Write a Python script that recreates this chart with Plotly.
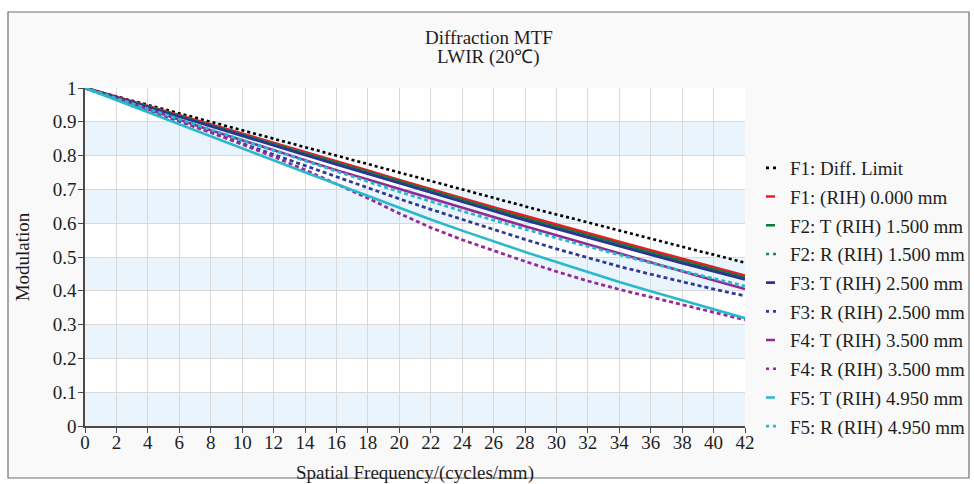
import plotly.graph_objects as go

# Spatial frequency samples (cycles/mm)
freq = [0, 2, 4, 6, 8, 10, 12, 14, 16, 18, 20, 22, 24, 26, 28, 30, 32, 34, 36, 38, 40, 42]

diff_limit = [1.000, 0.975, 0.949, 0.924, 0.899, 0.874, 0.848, 0.823, 0.798, 0.773, 0.748,
              0.723, 0.699, 0.674, 0.650, 0.626, 0.602, 0.578, 0.554, 0.530, 0.507, 0.483]
f1_axis = [1.000, 0.973, 0.946, 0.919, 0.892, 0.865, 0.837, 0.810, 0.783, 0.755, 0.727,
           0.699, 0.673, 0.646, 0.620, 0.595, 0.569, 0.544, 0.519, 0.494, 0.469, 0.444]
f2_t = [1.000, 0.972, 0.945, 0.917, 0.889, 0.862, 0.834, 0.806, 0.779, 0.751, 0.723,
        0.695, 0.668, 0.641, 0.615, 0.589, 0.563, 0.538, 0.513, 0.488, 0.463, 0.439]
f2_r = [1.000, 0.972, 0.944, 0.916, 0.888, 0.860, 0.832, 0.804, 0.776, 0.748, 0.720,
        0.692, 0.665, 0.638, 0.612, 0.586, 0.560, 0.535, 0.510, 0.485, 0.460, 0.436]
f3_t = [1.000, 0.971, 0.943, 0.915, 0.887, 0.858, 0.830, 0.802, 0.774, 0.746, 0.718,
        0.690, 0.663, 0.636, 0.609, 0.583, 0.557, 0.532, 0.507, 0.482, 0.458, 0.434]
f3_r = [1.000, 0.967, 0.934, 0.901, 0.868, 0.835, 0.802, 0.769, 0.736, 0.704, 0.672,
        0.641, 0.611, 0.581, 0.552, 0.524, 0.497, 0.472, 0.449, 0.426, 0.405, 0.385]
f4_t = [1.000, 0.968, 0.937, 0.906, 0.875, 0.845, 0.815, 0.786, 0.757, 0.729, 0.701,
        0.673, 0.645, 0.618, 0.591, 0.564, 0.537, 0.510, 0.484, 0.458, 0.431, 0.405]
f4_r = [1.000, 0.968, 0.936, 0.903, 0.869, 0.834, 0.797, 0.758, 0.717, 0.674, 0.629,
        0.587, 0.551, 0.518, 0.487, 0.457, 0.429, 0.404, 0.381, 0.358, 0.336, 0.314]
f5_t = [1.000, 0.964, 0.928, 0.893, 0.857, 0.822, 0.786, 0.751, 0.716, 0.681, 0.645,
        0.611, 0.578, 0.546, 0.515, 0.485, 0.455, 0.426, 0.399, 0.372, 0.345, 0.319]
f5_r = [1.000, 0.969, 0.938, 0.907, 0.876, 0.845, 0.814, 0.783, 0.753, 0.723, 0.693,
        0.664, 0.636, 0.609, 0.582, 0.556, 0.531, 0.506, 0.482, 0.459, 0.436, 0.414]

names = ["F1: Diff. Limit", "F1: (RIH) 0.000 mm",
         "F2: T (RIH) 1.500 mm", "F2: R (RIH) 1.500 mm",
         "F3: T (RIH) 2.500 mm", "F3: R (RIH) 2.500 mm",
         "F4: T (RIH) 3.500 mm", "F4: R (RIH) 3.500 mm",
         "F5: T (RIH) 4.950 mm", "F5: R (RIH) 4.950 mm"]
series = [diff_limit, f1_axis, f2_t, f2_r, f3_t, f3_r, f4_t, f4_r, f5_t, f5_r]

x_ticks = list(range(0, 43, 2))
y_ticks = [round(0.1 * i, 1) for i in range(11)]

FONT = "Liberation Serif, Times New Roman, serif"
TXT = "#1e1e1e"

# plot-area geometry in pixels
L, R, T, B = 85, 745, 88, 426
W, H = R - L, B - T

def px_x(p):
    return (p - L) / W

def px_y(p):
    return (B - p) / H

# (color, width, dash in plot, dash for the short legend key)
SOLID_KEY = "0px,11px,9px,100px"
DOT_KEY = "0px,11px,3px,4px,3px,100px"
styles = [
    ("#000000", 2.6, "dot", DOT_KEY),
    ("#ea1d25", 3.4, "solid", SOLID_KEY),
    ("#0d7a3b", 2.6, "solid", SOLID_KEY),
    ("#1f8a4a", 2.6, "3px,3px", DOT_KEY),
    ("#2b3590", 2.8, "solid", SOLID_KEY),
    ("#2f3a9c", 2.8, "4px,3px", DOT_KEY),
    ("#922a94", 2.6, "solid", SOLID_KEY),
    ("#952a98", 2.8, "4px,3px", DOT_KEY),
    ("#2ab8cc", 2.6, "solid", SOLID_KEY),
    ("#2ab8cc", 2.8, "4px,3px", DOT_KEY),
]

fig = go.Figure()

for vals, (col, w, dash, _) in zip(series, styles):
    fig.add_trace(go.Scatter(x=freq, y=vals, mode="lines",
                             line=dict(color=col, width=w, dash=dash),
                             showlegend=False, hoverinfo="skip"))

# legend entries with short keys
for name, (col, w, _, kdash) in zip(names, styles):
    fig.add_trace(go.Scatter(x=[None], y=[None], mode="lines", name=name,
                             legendgroup=name,
                             line=dict(color=col, width=2.6, dash=kdash)))

shapes = []
# outer frame
shapes.append(dict(type="rect", xref="paper", yref="paper",
                   x0=px_x(8), x1=px_x(969), y0=px_y(478), y1=px_y(12),
                   fillcolor="#f9f9f9", line=dict(color="#6e6e6e", width=1.2),
                   layer="below"))
# plot background and alternating bands
shapes.append(dict(type="rect", xref="paper", yref="paper", x0=0, x1=1, y0=0, y1=1,
                   fillcolor="#ffffff", line=dict(width=0), layer="below"))
for k in range(0, 10, 2):
    shapes.append(dict(type="rect", xref="paper", yref="y", x0=0, x1=1,
                       y0=y_ticks[k], y1=y_ticks[k + 1],
                       fillcolor="#eaf4fc", line=dict(width=0), layer="below"))

title_font = dict(size=19, family=FONT, color=TXT)
annotations = [
    dict(text="Diffraction MTF", xref="paper", yref="paper",
         x=px_x(489), y=px_y(37), showarrow=False,
         xanchor="center", yanchor="middle", font=title_font),
    dict(text="LWIR (20℃)", xref="paper", yref="paper",
         x=px_x(489), y=px_y(57), showarrow=False,
         xanchor="center", yanchor="middle", font=title_font),
]

fig.update_layout(
    width=974, height=484,
    margin=dict(l=L, r=974 - R, t=T, b=484 - B, autoexpand=False),
    paper_bgcolor="#ffffff", plot_bgcolor="rgba(0,0,0,0)",
    font=dict(family=FONT, size=19, color=TXT),
    shapes=shapes, annotations=annotations,
    showlegend=True,
    legend=dict(x=px_x(750), y=px_y(149), xanchor="left", yanchor="top",
                bgcolor="rgba(0,0,0,0)", font=dict(size=19, family=FONT, color=TXT),
                tracegroupgap=1, itemwidth=30),
    xaxis=dict(range=[0, 42], tickvals=x_ticks, showgrid=True, gridcolor="#d9d9d9",
               gridwidth=1, zeroline=False, showline=True, linecolor="#4a4a4a", linewidth=1.5,
               ticks="outside", ticklen=5, tickcolor="#4a4a4a", automargin=False,
               ticklabelstandoff=-7,
               tickfont=dict(size=19, family=FONT, color=TXT),
               title=dict(text="Spatial Frequency/(cycles/mm)", standoff=20,
                          font=dict(size=19, family=FONT, color=TXT))),
    yaxis=dict(range=[0, 1], tickvals=y_ticks, showgrid=True, gridcolor="#d9d9d9",
               gridwidth=1, zeroline=False, showline=True, linecolor="#4a4a4a", linewidth=1.5,
               ticks="outside", ticklen=5, tickcolor="#4a4a4a", automargin=False,
               ticklabelstandoff=-2,
               tickfont=dict(size=19, family=FONT, color=TXT),
               title=dict(text="Modulation", standoff=18,
                          font=dict(size=19, family=FONT, color=TXT))),
)

fig.write_html("out.html")
